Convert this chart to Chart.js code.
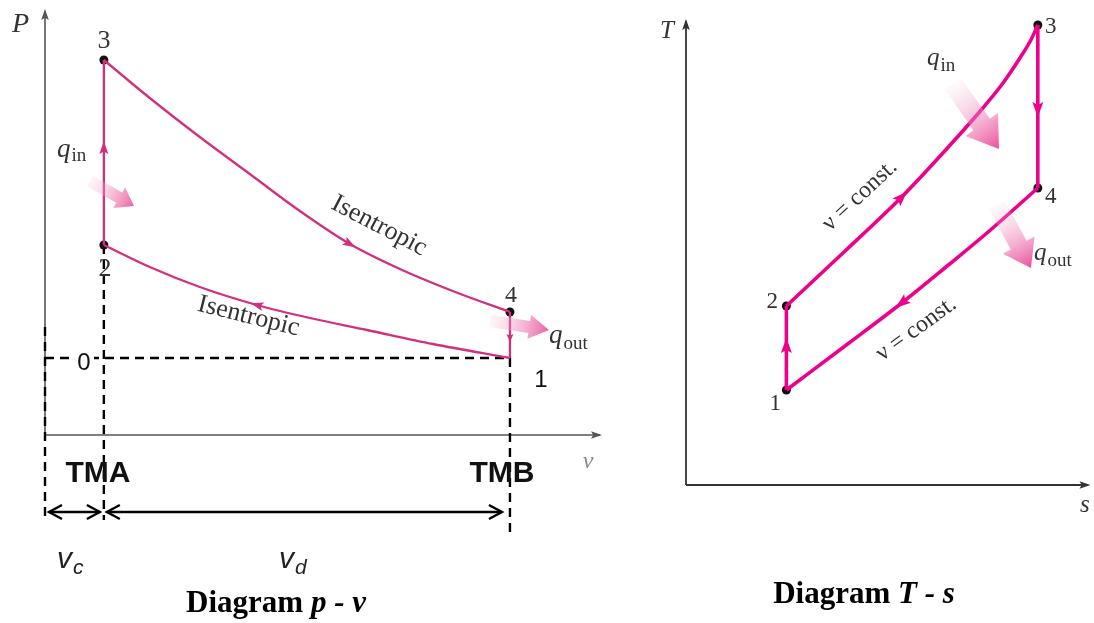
<!DOCTYPE html>
<html><head><meta charset="utf-8">
<script src="https://cdn.jsdelivr.net/npm/chart.js@4.4.1/dist/chart.umd.min.js"></script>
<style>
html,body{margin:0;padding:0;background:#fff;width:1094px;height:623px;overflow:hidden}
#pv{position:absolute;left:0;top:0}
#ts{position:absolute;left:630px;top:0}
</style></head><body>
<canvas id="pv" width="630" height="623"></canvas>
<canvas id="ts" width="464" height="623"></canvas>
<script>
// ---------- p-v diagram data (arbitrary units) ----------
const pvStateNames = ['1', '2', '3', '4'];
const pvStateV = [7.9, 1.0, 1.0, 7.9];
const pvStateP = [7.7, 19.0, 37.5, 12.3];
// isentropic expansion 3 -> 4
const pvExpV = [1.0, 1.78, 2.63, 3.48, 4.33, 5.18, 6.03, 6.97, 7.9];
const pvExpP = [37.5, 33.7, 29.8, 26.1, 22.4, 19.1, 16.6, 14.3, 12.3];
// isentropic compression 1 -> 2
const pvCmpV = [1.0, 1.78, 2.63, 3.60, 4.50, 5.47, 6.59, 7.9];
const pvCmpP = [19.0, 16.8, 14.8, 13.0, 11.7, 10.5, 9.1, 7.7];

// ---------- T-s diagram data ----------
const tsStateNames = ['1', '2', '3', '4'];
const tsStateS = [10.1, 10.1, 35.4, 35.4];
const tsStateT = [9.5, 17.9, 46.0, 29.7];
// v = const heat addition 2 -> 3
const tsInS = [10.1, 15.9, 21.7, 26.4, 29.7, 31.9, 33.6, 34.7, 35.4];
const tsInT = [17.9, 23.3, 28.8, 33.8, 37.5, 40.2, 42.7, 44.5, 46.0];
// v = const heat rejection 4 -> 1
const tsOutS = [10.1, 16.4, 21.7, 26.4, 30.4, 35.4];
const tsOutT = [9.5, 14.2, 18.2, 22.0, 25.3, 29.7];

const zip = (xs, ys) => xs.map((x, i) => ({x, y: ys[i]}));
const seg = (xs, ys, a, b) => [{x: xs[a], y: ys[a]}, {x: xs[b], y: ys[b]}];

const PV_COL = '#d2307d';
const TS_COL = '#ec008c';
const SERIF = '"Liberation Serif", "DejaVu Serif", serif';
const SANS = '"Liberation Sans", Arial, sans-serif';

// ---------- drawing helpers ----------
function line(ctx, x1, y1, x2, y2, color, w, dash) {
  ctx.save(); ctx.strokeStyle = color; ctx.lineWidth = w; ctx.setLineDash(dash || []);
  ctx.beginPath(); ctx.moveTo(x1, y1); ctx.lineTo(x2, y2); ctx.stroke(); ctx.restore();
}
function head(ctx, x, y, ang, len, hw, color) { // tip at x,y
  ctx.save(); ctx.translate(x, y); ctx.rotate(ang); ctx.fillStyle = color;
  ctx.beginPath(); ctx.moveTo(0, 0); ctx.lineTo(-len, hw); ctx.lineTo(-len * 0.8, 0); ctx.lineTo(-len, -hw);
  ctx.closePath(); ctx.fill(); ctx.restore();
}
function chevron(ctx, x, y, dir, color) { // open arrow head
  ctx.save(); ctx.strokeStyle = color; ctx.lineWidth = 2.4;
  ctx.beginPath(); ctx.moveTo(x - dir * 13, y - 7); ctx.lineTo(x, y); ctx.lineTo(x - dir * 13, y + 7); ctx.stroke(); ctx.restore();
}
function text(ctx, s, x, y, font, color, align, ang) {
  ctx.save(); ctx.font = font; ctx.fillStyle = color || '#222'; ctx.textAlign = align || 'left';
  ctx.textBaseline = 'alphabetic';
  if (ang) { ctx.translate(x, y); ctx.rotate(ang); ctx.fillText(s, 0, 0); }
  else ctx.fillText(s, x, y);
  ctx.restore();
}
function sub(ctx, main, subs, x, y, f1, f2, dy, color) {
  ctx.save(); ctx.font = f1; ctx.fillStyle = color; ctx.textAlign = 'left';
  ctx.fillText(main, x, y); const w = ctx.measureText(main).width;
  ctx.font = f2; ctx.fillText(subs, x + w + 1, y + dy); ctx.restore();
}
function title(ctx, a, b, cx, y, size) {
  ctx.save(); ctx.fillStyle = '#000';
  const f1 = 'bold ' + size + 'px ' + SERIF, f2 = 'italic bold ' + size + 'px ' + SERIF;
  ctx.font = f1; const w1 = ctx.measureText(a).width;
  ctx.font = f2; const w2 = ctx.measureText(b).width;
  const x0 = cx - (w1 + w2) / 2;
  ctx.font = f1; ctx.fillText(a, x0, y); ctx.font = f2; ctx.fillText(b, x0 + w1, y);
  ctx.restore();
}
function fatArrow(ctx, tx, ty, px, py, sw, hw, hl, c0, c1) {
  const ang = Math.atan2(py - ty, px - tx), L = Math.hypot(px - tx, py - ty);
  ctx.save(); ctx.translate(tx, ty); ctx.rotate(ang);
  const g = ctx.createLinearGradient(0, 0, L, 0); g.addColorStop(0, c0); g.addColorStop(1, c1);
  ctx.fillStyle = g; ctx.beginPath();
  ctx.moveTo(0, -sw / 2); ctx.lineTo(L - hl, -sw / 2); ctx.lineTo(L - hl, -hw / 2); ctx.lineTo(L, 0);
  ctx.lineTo(L - hl, hw / 2); ctx.lineTo(L - hl, sw / 2); ctx.lineTo(0, sw / 2); ctx.closePath(); ctx.fill();
  ctx.restore();
}
function midHead(chart, xs, ys, i, reverse, len, hw, color) {
  const X = v => chart.scales.x.getPixelForValue(v), Y = v => chart.scales.y.getPixelForValue(v);
  let a = Math.atan2(Y(ys[i + 1]) - Y(ys[i - 1]), X(xs[i + 1]) - X(xs[i - 1]));
  if (reverse) a += Math.PI;
  const x = X(xs[i]) + Math.cos(a) * len / 2, y = Y(ys[i]) + Math.sin(a) * len / 2;
  head(chart.ctx, x, y, a, len, hw, color);
}

// ---------- p-v plugin ----------
const pvDecor = {
  id: 'pvDecor',
  beforeDatasetsDraw(chart) {
    const ctx = chart.ctx, X = v => chart.scales.x.getPixelForValue(v), Y = v => chart.scales.y.getPixelForValue(v);
    const ca = chart.chartArea, ax = '#555';
    line(ctx, ca.left, ca.bottom, ca.left, ca.top - 1, ax, 1.6);
    head(ctx, ca.left, ca.top - 3, -Math.PI / 2, 11, 3.8, ax);
    line(ctx, ca.left, ca.bottom, ca.right, ca.bottom, ax, 1.6);
    head(ctx, ca.right + 2, ca.bottom, 0, 11, 3.8, ax);
    const d = [9, 6], k = '#000';
    line(ctx, X(0), Y(pvStateP[0]), X(pvStateV[0]), Y(pvStateP[0]), k, 2.4, d);
    line(ctx, X(0), Y(pvStateP[0]) - 31, X(0), 520, k, 2.4, d);
    line(ctx, X(pvStateV[1]), Y(pvStateP[1]), X(pvStateV[1]), 520, k, 2.4, d);
    line(ctx, X(pvStateV[0]), Y(pvStateP[0]), X(pvStateV[0]), 534, k, 2.4, d);
    const ya = 512;
    line(ctx, X(0) + 4, ya, X(pvStateV[1]) - 4, ya, k, 2.4);
    chevron(ctx, X(0) + 4, ya, -1, k); chevron(ctx, X(pvStateV[1]) - 4, ya, 1, k);
    line(ctx, X(pvStateV[1]) + 3, ya, X(pvStateV[0]) - 8, ya, k, 2.4);
    chevron(ctx, X(pvStateV[1]) + 3, ya, -1, k); chevron(ctx, X(pvStateV[0]) - 8, ya, 1, k);
  },
  afterDatasetsDraw(chart) {
    const ctx = chart.ctx, X = v => chart.scales.x.getPixelForValue(v), Y = v => chart.scales.y.getPixelForValue(v);
    head(ctx, X(pvStateV[1]), Y(29.4), -Math.PI / 2, 13, 4.5, PV_COL);
    head(ctx, X(pvStateV[3]), Y(9.3), Math.PI / 2, 8, 3.5, PV_COL);
    midHead(chart, pvExpV, pvExpP, 5, false, 13, 4.5, PV_COL);
    midHead(chart, pvCmpV, pvCmpP, 3, true, 13, 4.5, PV_COL);
    fatArrow(ctx, 90, 181, 134, 206, 12, 24, 17, 'rgba(245,190,215,0.15)', 'rgba(232,80,150,0.9)');
    fatArrow(ctx, 490, 321, 549, 330, 12, 24, 20, 'rgba(245,190,215,0.15)', 'rgba(232,80,150,0.9)');
    const t = '#333';
    text(ctx, 'P', 12, 32, 'italic 28px ' + SERIF, t);
    text(ctx, '3', 104, 48, '26px ' + SERIF, t, 'center');
    text(ctx, '2', 105, 276, '26px ' + SERIF, t, 'center');
    text(ctx, '4', 511, 302, '24px ' + SERIF, t, 'center');
    sub(ctx, 'q', 'in', 57, 157, 'italic 27px ' + SERIF, '19px ' + SERIF, 4, t);
    sub(ctx, 'q', 'out', 549, 343, 'italic 27px ' + SERIF, '19px ' + SERIF, 6, t);
    ctx.save(); ctx.fillStyle = '#fff'; ctx.fillRect(73, 350, 21, 22); ctx.restore();
    text(ctx, '0', 84, 370, '24px ' + SANS, '#111', 'center');
    text(ctx, '1', 541, 387, '24px ' + SANS, '#111', 'center');
    text(ctx, 'v', 588, 468, 'italic 24px ' + SERIF, '#888', 'center');
    text(ctx, 'TMA', 98, 482, 'bold 30px ' + SANS, '#111', 'center');
    text(ctx, 'TMB', 502, 482, 'bold 30px ' + SANS, '#111', 'center');
    sub(ctx, 'v', 'c', 57, 568, 'italic 30px ' + SANS, 'italic 21px ' + SANS, 6, '#222');
    sub(ctx, 'v', 'd', 279, 568, 'italic 30px ' + SANS, 'italic 21px ' + SANS, 6, '#222');
    text(ctx, 'Isentropic', 376, 232, '26px ' + SERIF, t, 'center', 27.5 * Math.PI / 180);
    text(ctx, 'Isentropic', 247, 323, '26px ' + SERIF, t, 'center', 14 * Math.PI / 180);
    title(ctx, 'Diagram ', 'p - v', 276, 612, 31);
  }
};

// ---------- T-s plugin ----------
const tsDecor = {
  id: 'tsDecor',
  beforeDatasetsDraw(chart) {
    const ctx = chart.ctx, ca = chart.chartArea, ax = '#333';
    line(ctx, ca.left, ca.bottom, ca.left, ca.top - 1, ax, 1.8);
    head(ctx, ca.left, ca.top - 3, -Math.PI / 2, 11, 3.8, ax);
    line(ctx, ca.left, ca.bottom, ca.right - 2, ca.bottom, ax, 1.8);
    head(ctx, ca.right + 1, ca.bottom, 0, 11, 3.8, ax);
  },
  afterDatasetsDraw(chart) {
    const ctx = chart.ctx, X = v => chart.scales.x.getPixelForValue(v), Y = v => chart.scales.y.getPixelForValue(v);
    head(ctx, X(tsStateS[0]), Y(14.7), -Math.PI / 2, 15, 5.5, TS_COL);
    head(ctx, X(tsStateS[2]), Y(36.8), Math.PI / 2, 15, 5.5, TS_COL);
    midHead(chart, tsInS, tsInT, 2, false, 15, 5.5, TS_COL);
    midHead(chart, tsOutS, tsOutT, 2, true, 15, 5.5, TS_COL);
    fatArrow(ctx, 323, 84, 369, 149, 20, 40, 30, 'rgba(245,200,220,0.1)', 'rgba(232,60,145,0.9)');
    fatArrow(ctx, 367, 205, 401, 268, 18, 36, 26, 'rgba(245,200,220,0.1)', 'rgba(232,60,145,0.9)');
    const t = '#333';
    text(ctx, 'T', 30, 38, 'italic 25px ' + SERIF, t);
    text(ctx, 's', 450, 512, 'italic 25px ' + SERIF, t);
    text(ctx, '3', 415, 33, '23px ' + SERIF, t);
    text(ctx, '4', 415, 203, '23px ' + SERIF, t);
    text(ctx, '2', 148, 308, '23px ' + SERIF, t, 'right');
    text(ctx, '1', 151, 410, '23px ' + SERIF, t, 'right');
    sub(ctx, 'q', 'in', 297, 65, 'italic 25px ' + SERIF, '19px ' + SERIF, 6, t);
    sub(ctx, 'q', 'out', 404, 260, 'italic 25px ' + SERIF, '19px ' + SERIF, 6, t);
    text(ctx, 'ν = const.', 234, 200, '24px ' + SERIF, t, 'center', -43 * Math.PI / 180);
    text(ctx, 'ν = const.', 290, 334, '24px ' + SERIF, t, 'center', -36 * Math.PI / 180);
    title(ctx, 'Diagram ', 'T - s', 234, 603, 31);
  }
};

const common = (xmax, ymax, pad) => ({
  responsive: false, animation: false, devicePixelRatio: 1,
  layout: {padding: pad},
  plugins: {legend: {display: false}, tooltip: {enabled: false}, title: {display: false}},
  scales: {
    x: {type: 'linear', min: 0, max: xmax, display: false},
    y: {type: 'linear', min: 0, max: ymax, display: false}
  },
  elements: {line: {cubicInterpolationMode: 'monotone'}}
});
const lineDs = (data, col, w) => ({data, showLine: true, borderColor: col, borderWidth: w, pointRadius: 0, fill: false, clip: false});

new Chart(document.getElementById('pv'), {
  type: 'scatter',
  data: {datasets: [
    lineDs(zip(pvExpV, pvExpP), PV_COL, 2.3),
    lineDs(zip(pvCmpV, pvCmpP), PV_COL, 2.3),
    lineDs(seg(pvStateV, pvStateP, 1, 2), PV_COL, 2.3),
    lineDs(seg(pvStateV, pvStateP, 3, 0), PV_COL, 2.3),
    {data: [1, 2, 3].map(i => ({x: pvStateV[i], y: pvStateP[i]})), pointRadius: 4.5, pointBackgroundColor: '#111', pointBorderWidth: 0, showLine: false, clip: false}
  ]},
  options: common(9.43, 42.3, {left: 45, right: 30, top: 12, bottom: 188}),
  plugins: [pvDecor]
});

new Chart(document.getElementById('ts'), {
  type: 'scatter',
  data: {datasets: [
    lineDs(zip(tsInS, tsInT), TS_COL, 3.6),
    lineDs(zip(tsOutS, tsOutT), TS_COL, 3.6),
    lineDs(seg(tsStateS, tsStateT, 0, 1), TS_COL, 3.6),
    lineDs(seg(tsStateS, tsStateT, 2, 3), TS_COL, 3.6),
    {data: tsStateS.map((s, i) => ({x: s, y: tsStateT[i]})), pointRadius: 4.5, pointBackgroundColor: '#111', pointBorderWidth: 0, showLine: false, clip: false}
  ]},
  options: common(40.6, 46.3, {left: 56, right: 2, top: 22, bottom: 138}),
  plugins: [tsDecor]
});
</script>
</body></html>
